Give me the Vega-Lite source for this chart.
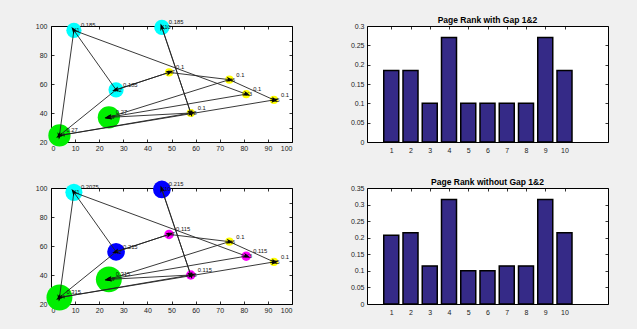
{
  "$schema": "https://vega.github.io/schema/vega-lite/v6.json",
  "background": "#f0f0f0",
  "padding": {"left": 34, "top": 15, "right": 30, "bottom": 16},
  "config": {
    "font": "Liberation Sans",
    "view": {"stroke": "black", "strokeWidth": 1, "fill": "white"},
    "axis": {"domain": false, "grid": false, "title": null, "ticks": true, "tickSize": 3, "offset": -3, "tickColor": "black", "tickWidth": 0.8, "labelFont": "Liberation Sans", "labelFontSize": 7, "labelColor": "#222"}
  },
  "datasets": {
    "pos": [
      {"node": "X1", "x": 9.5, "y": 97},
      {"node": "X2", "x": 27, "y": 56},
      {"node": "X3", "x": 81, "y": 53},
      {"node": "X4", "x": 3.5, "y": 24.5},
      {"node": "X5", "x": 92.5, "y": 49},
      {"node": "X6", "x": 74, "y": 63},
      {"node": "X7", "x": 49, "y": 68},
      {"node": "X8", "x": 58, "y": 40},
      {"node": "X9", "x": 24, "y": 37},
      {"node": "X10", "x": 46, "y": 99}
    ],
    "ranks": [
      {"graph": "with", "node": "X1", "page": 1, "rank": 0.185},
      {"graph": "with", "node": "X2", "page": 2, "rank": 0.185},
      {"graph": "with", "node": "X3", "page": 3, "rank": 0.1},
      {"graph": "with", "node": "X4", "page": 4, "rank": 0.27},
      {"graph": "with", "node": "X5", "page": 5, "rank": 0.1},
      {"graph": "with", "node": "X6", "page": 6, "rank": 0.1},
      {"graph": "with", "node": "X7", "page": 7, "rank": 0.1},
      {"graph": "with", "node": "X8", "page": 8, "rank": 0.1},
      {"graph": "with", "node": "X9", "page": 9, "rank": 0.27},
      {"graph": "with", "node": "X10", "page": 10, "rank": 0.185},
      {"graph": "without", "node": "X1", "page": 1, "rank": 0.2075},
      {"graph": "without", "node": "X2", "page": 2, "rank": 0.215},
      {"graph": "without", "node": "X3", "page": 3, "rank": 0.115},
      {"graph": "without", "node": "X4", "page": 4, "rank": 0.315},
      {"graph": "without", "node": "X5", "page": 5, "rank": 0.1},
      {"graph": "without", "node": "X6", "page": 6, "rank": 0.1},
      {"graph": "without", "node": "X7", "page": 7, "rank": 0.115},
      {"graph": "without", "node": "X8", "page": 8, "rank": 0.115},
      {"graph": "without", "node": "X9", "page": 9, "rank": 0.315},
      {"graph": "without", "node": "X10", "page": 10, "rank": 0.215}
    ],
    "edges": [
      {"from": "X1", "to": "X4"},
      {"from": "X2", "to": "X1"},
      {"from": "X1", "to": "X3"},
      {"from": "X10", "to": "X8"},
      {"from": "X8", "to": "X10"},
      {"from": "X2", "to": "X7"},
      {"from": "X7", "to": "X2"},
      {"from": "X2", "to": "X4"},
      {"from": "X7", "to": "X6"},
      {"from": "X6", "to": "X5"},
      {"from": "X6", "to": "X9"},
      {"from": "X3", "to": "X9"},
      {"from": "X8", "to": "X9"},
      {"from": "X4", "to": "X5"},
      {"from": "X4", "to": "X8"}
    ]
  },
  "columns": 2,
  "spacing": {"row": 46, "column": 75},
  "bounds": "flush",
  "concat": [
    {
      "width": 241, "height": 116,
      "layer": [
        {
          "data": {"name": "ranks"},
          "transform": [
            {"filter": "datum.graph === 'with'"},
            {"lookup": "node", "from": {"data": {"name": "pos"}, "key": "node", "fields": ["x", "y"]}}
          ],
          "mark": {"type": "circle", "opacity": 1},
          "encoding": {
            "x": {"field": "x", "type": "quantitative", "scale": {"domain": [0, 100], "nice": false, "zero": false}, "axis": {"orient": "bottom", "values": [0, 10, 20, 30, 40, 50, 60, 70, 80, 90, 100], "labelPadding": 2}},
            "y": {"field": "y", "type": "quantitative", "scale": {"domain": [20, 100], "nice": false, "zero": false}, "axis": {"orient": "left", "values": [20, 40, 60, 80, 100], "labelPadding": 4}},
            "color": {"field": "rank", "type": "nominal", "scale": {"domain": [0.1, 0.115, 0.185, 0.2075, 0.215, 0.27, 0.315], "range": ["#ffff00", "#ff00ff", "#00ffff", "#00ffff", "#0000ff", "#00ee00", "#00ee00"]}, "legend": null},
            "size": {"field": "rank", "type": "quantitative", "scale": {"type": "pow", "exponent": 2, "domain": [0, 0.35], "range": [0, 830]}, "legend": null}
          }
        },
        {
          "data": {"name": "edges"},
          "transform": [
            {"lookup": "from", "from": {"data": {"name": "pos"}, "key": "node", "fields": ["x", "y"]}, "as": ["sx", "sy"]},
            {"lookup": "to", "from": {"data": {"name": "pos"}, "key": "node", "fields": ["x", "y"]}, "as": ["tx", "ty"]}
          ],
          "mark": {"type": "rule", "color": "#222222", "strokeWidth": 0.9},
          "encoding": {
            "x": {"field": "sx", "type": "quantitative", "scale": {"domain": [0, 100], "nice": false, "zero": false}, "axis": {"orient": "top", "labels": false, "values": [0, 10, 20, 30, 40, 50, 60, 70, 80, 90, 100]}},
            "y": {"field": "sy", "type": "quantitative", "scale": {"domain": [20, 100], "nice": false, "zero": false}, "axis": {"orient": "right", "labels": false, "values": [20, 30, 40, 50, 60, 70, 80, 90, 100]}},
            "x2": {"field": "tx"},
            "y2": {"field": "ty"}
          }
        },
        {
          "data": {"name": "edges"},
          "transform": [
            {"lookup": "from", "from": {"data": {"name": "pos"}, "key": "node", "fields": ["x", "y"]}, "as": ["sx", "sy"]},
            {"lookup": "to", "from": {"data": {"name": "pos"}, "key": "node", "fields": ["x", "y"]}, "as": ["tx", "ty"]},
            {"calculate": "atan2((datum.tx - datum.sx) * 2.41, (datum.ty - datum.sy) * 1.45) * 180 / PI", "as": "ang"}
          ],
          "mark": {"type": "point", "shape": "M0,-1L0.6,0.7L0,0.25L-0.6,0.7Z", "filled": true, "color": "black", "size": 70, "opacity": 1},
          "encoding": {
            "x": {"field": "tx", "type": "quantitative", "scale": {"domain": [0, 100], "nice": false, "zero": false}, "axis": null},
            "y": {"field": "ty", "type": "quantitative", "scale": {"domain": [20, 100], "nice": false, "zero": false}, "axis": null},
            "angle": {"field": "ang", "type": "quantitative", "scale": null}
          }
        },
        {
          "data": {"name": "ranks"},
          "transform": [
            {"filter": "datum.graph === 'with'"},
            {"lookup": "node", "from": {"data": {"name": "pos"}, "key": "node", "fields": ["x", "y"]}}
          ],
          "mark": {"type": "text", "align": "left", "baseline": "middle", "dx": -1, "fontSize": 5.5, "color": "#111"},
          "encoding": {
            "x": {"field": "x", "type": "quantitative", "scale": {"domain": [0, 100], "nice": false, "zero": false}, "axis": null},
            "y": {"field": "y", "type": "quantitative", "scale": {"domain": [20, 100], "nice": false, "zero": false}, "axis": null},
            "text": {"field": "node"}
          }
        },
        {
          "data": {"name": "ranks"},
          "transform": [
            {"filter": "datum.graph === 'with'"},
            {"lookup": "node", "from": {"data": {"name": "pos"}, "key": "node", "fields": ["x", "y"]}}
          ],
          "mark": {"type": "text", "align": "left", "baseline": "middle", "dx": 7, "dy": -5, "fontSize": 5.8, "color": "#111"},
          "encoding": {
            "x": {"field": "x", "type": "quantitative", "scale": {"domain": [0, 100], "nice": false, "zero": false}, "axis": null},
            "y": {"field": "y", "type": "quantitative", "scale": {"domain": [20, 100], "nice": false, "zero": false}, "axis": null},
            "text": {"field": "rank", "type": "quantitative", "format": "~g"}
          }
        }
      ],
      "resolve": {"axis": {"x": "independent", "y": "independent"}}
    },
    {
      "width": 241, "height": 116,
      "title": {"text": "Page Rank with Gap 1&2", "fontSize": 8.5, "fontWeight": "bold", "offset": -2, "font": "Liberation Sans", "color": "black"},
      "data": {"name": "ranks"},
      "transform": [{"filter": "datum.graph === 'with'"}],
      "layer": [
        {
          "mark": {"type": "bar", "size": 15, "color": "#352a87", "stroke": "black", "strokeWidth": 1.5},
          "encoding": {
            "x": {"field": "page", "type": "quantitative", "scale": {"domain": [0, 12], "nice": false, "zero": false}, "axis": {"values": [1, 2, 3, 4, 5, 6, 7, 8, 9, 10], "labelPadding": 4}},
            "y": {"field": "rank", "type": "quantitative", "scale": {"domain": [0, 0.3], "nice": false}, "axis": {"values": [0, 0.05, 0.1, 0.15, 0.2, 0.25, 0.3], "format": "~g", "labelPadding": 3}}
          }
        },
        {
          "mark": {"type": "point", "opacity": 0},
          "encoding": {
            "x": {"field": "page", "type": "quantitative", "scale": {"domain": [0, 12], "nice": false, "zero": false}, "axis": {"orient": "top", "labels": false, "values": [1, 2, 3, 4, 5, 6, 7, 8, 9, 10]}},
            "y": {"field": "rank", "type": "quantitative", "scale": {"domain": [0, 0.3], "nice": false}, "axis": {"orient": "right", "labels": false, "values": [0, 0.05, 0.1, 0.15, 0.2, 0.25, 0.3]}}
          }
        }
      ],
      "resolve": {"axis": {"x": "independent", "y": "independent"}}
    },
    {
      "width": 241, "height": 116,
      "layer": [
        {
          "data": {"name": "ranks"},
          "transform": [
            {"filter": "datum.graph === 'without'"},
            {"lookup": "node", "from": {"data": {"name": "pos"}, "key": "node", "fields": ["x", "y"]}}
          ],
          "mark": {"type": "circle", "opacity": 1},
          "encoding": {
            "x": {"field": "x", "type": "quantitative", "scale": {"domain": [0, 100], "nice": false, "zero": false}, "axis": {"orient": "bottom", "values": [0, 10, 20, 30, 40, 50, 60, 70, 80, 90, 100], "labelPadding": 2}},
            "y": {"field": "y", "type": "quantitative", "scale": {"domain": [20, 100], "nice": false, "zero": false}, "axis": {"orient": "left", "values": [20, 40, 60, 80, 100], "labelPadding": 4}},
            "color": {"field": "rank", "type": "nominal", "scale": {"domain": [0.1, 0.115, 0.185, 0.2075, 0.215, 0.27, 0.315], "range": ["#ffff00", "#ff00ff", "#00ffff", "#00ffff", "#0000ff", "#00ee00", "#00ee00"]}, "legend": null},
            "size": {"field": "rank", "type": "quantitative", "scale": {"type": "pow", "exponent": 2, "domain": [0, 0.35], "range": [0, 830]}, "legend": null}
          }
        },
        {
          "data": {"name": "edges"},
          "transform": [
            {"lookup": "from", "from": {"data": {"name": "pos"}, "key": "node", "fields": ["x", "y"]}, "as": ["sx", "sy"]},
            {"lookup": "to", "from": {"data": {"name": "pos"}, "key": "node", "fields": ["x", "y"]}, "as": ["tx", "ty"]}
          ],
          "mark": {"type": "rule", "color": "#222222", "strokeWidth": 0.9},
          "encoding": {
            "x": {"field": "sx", "type": "quantitative", "scale": {"domain": [0, 100], "nice": false, "zero": false}, "axis": {"orient": "top", "labels": false, "values": [0, 10, 20, 30, 40, 50, 60, 70, 80, 90, 100]}},
            "y": {"field": "sy", "type": "quantitative", "scale": {"domain": [20, 100], "nice": false, "zero": false}, "axis": {"orient": "right", "labels": false, "values": [20, 30, 40, 50, 60, 70, 80, 90, 100]}},
            "x2": {"field": "tx"},
            "y2": {"field": "ty"}
          }
        },
        {
          "data": {"name": "edges"},
          "transform": [
            {"lookup": "from", "from": {"data": {"name": "pos"}, "key": "node", "fields": ["x", "y"]}, "as": ["sx", "sy"]},
            {"lookup": "to", "from": {"data": {"name": "pos"}, "key": "node", "fields": ["x", "y"]}, "as": ["tx", "ty"]},
            {"calculate": "atan2((datum.tx - datum.sx) * 2.41, (datum.ty - datum.sy) * 1.45) * 180 / PI", "as": "ang"}
          ],
          "mark": {"type": "point", "shape": "M0,-1L0.6,0.7L0,0.25L-0.6,0.7Z", "filled": true, "color": "black", "size": 70, "opacity": 1},
          "encoding": {
            "x": {"field": "tx", "type": "quantitative", "scale": {"domain": [0, 100], "nice": false, "zero": false}, "axis": null},
            "y": {"field": "ty", "type": "quantitative", "scale": {"domain": [20, 100], "nice": false, "zero": false}, "axis": null},
            "angle": {"field": "ang", "type": "quantitative", "scale": null}
          }
        },
        {
          "data": {"name": "ranks"},
          "transform": [
            {"filter": "datum.graph === 'without'"},
            {"lookup": "node", "from": {"data": {"name": "pos"}, "key": "node", "fields": ["x", "y"]}}
          ],
          "mark": {"type": "text", "align": "left", "baseline": "middle", "dx": -1, "fontSize": 5.5, "color": "#111"},
          "encoding": {
            "x": {"field": "x", "type": "quantitative", "scale": {"domain": [0, 100], "nice": false, "zero": false}, "axis": null},
            "y": {"field": "y", "type": "quantitative", "scale": {"domain": [20, 100], "nice": false, "zero": false}, "axis": null},
            "text": {"field": "node"}
          }
        },
        {
          "data": {"name": "ranks"},
          "transform": [
            {"filter": "datum.graph === 'without'"},
            {"lookup": "node", "from": {"data": {"name": "pos"}, "key": "node", "fields": ["x", "y"]}}
          ],
          "mark": {"type": "text", "align": "left", "baseline": "middle", "dx": 7, "dy": -5, "fontSize": 5.8, "color": "#111"},
          "encoding": {
            "x": {"field": "x", "type": "quantitative", "scale": {"domain": [0, 100], "nice": false, "zero": false}, "axis": null},
            "y": {"field": "y", "type": "quantitative", "scale": {"domain": [20, 100], "nice": false, "zero": false}, "axis": null},
            "text": {"field": "rank", "type": "quantitative", "format": "~g"}
          }
        }
      ],
      "resolve": {"axis": {"x": "independent", "y": "independent"}}
    },
    {
      "width": 241, "height": 116,
      "title": {"text": "Page Rank without Gap 1&2", "fontSize": 8.5, "fontWeight": "bold", "offset": -2, "font": "Liberation Sans", "color": "black"},
      "data": {"name": "ranks"},
      "transform": [{"filter": "datum.graph === 'without'"}],
      "layer": [
        {
          "mark": {"type": "bar", "size": 15, "color": "#352a87", "stroke": "black", "strokeWidth": 1.5},
          "encoding": {
            "x": {"field": "page", "type": "quantitative", "scale": {"domain": [0, 12], "nice": false, "zero": false}, "axis": {"values": [1, 2, 3, 4, 5, 6, 7, 8, 9, 10], "labelPadding": 4}},
            "y": {"field": "rank", "type": "quantitative", "scale": {"domain": [0, 0.35], "nice": false}, "axis": {"values": [0, 0.05, 0.1, 0.15, 0.2, 0.25, 0.3, 0.35], "format": "~g", "labelPadding": 3}}
          }
        },
        {
          "mark": {"type": "point", "opacity": 0},
          "encoding": {
            "x": {"field": "page", "type": "quantitative", "scale": {"domain": [0, 12], "nice": false, "zero": false}, "axis": {"orient": "top", "labels": false, "values": [1, 2, 3, 4, 5, 6, 7, 8, 9, 10]}},
            "y": {"field": "rank", "type": "quantitative", "scale": {"domain": [0, 0.35], "nice": false}, "axis": {"orient": "right", "labels": false, "values": [0, 0.05, 0.1, 0.15, 0.2, 0.25, 0.3, 0.35]}}
          }
        }
      ],
      "resolve": {"axis": {"x": "independent", "y": "independent"}}
    }
  ]
}
